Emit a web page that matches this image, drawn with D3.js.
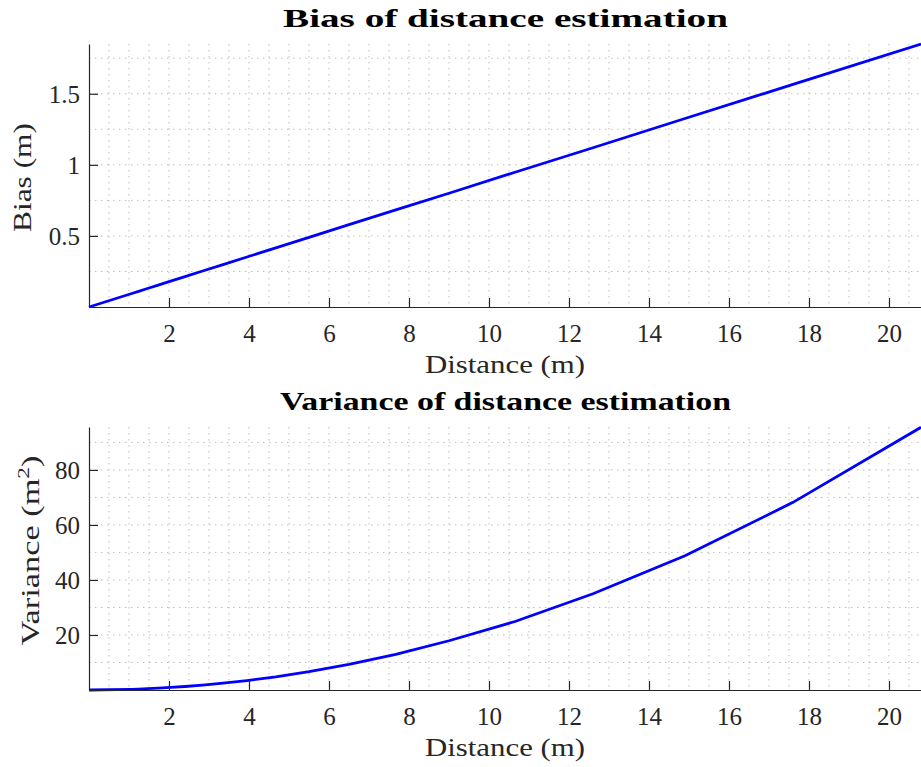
<!DOCTYPE html>
<html><head><meta charset="utf-8">
<script src="https://cdn.jsdelivr.net/npm/d3@7"></script>
<style>body{margin:0;background:#fff}svg{display:block}</style>
</head><body><svg id="c" width="921" height="767"></svg>
<script>
// Data
const distance = [0, 1.05, 1.24, 1.46, 1.73, 2.04, 2.4, 2.84, 3.35, 3.95, 4.67, 5.5, 6.5, 7.67, 9.0, 10.65, 12.6, 14.9, 17.6, 20.8];
const bias = [0, 0.093, 0.11, 0.13, 0.154, 0.182, 0.214, 0.253, 0.298, 0.352, 0.416, 0.49, 0.579, 0.683, 0.80, 0.948, 1.12, 1.326, 1.566, 1.85];
const variance = [0, 0.24, 0.34, 0.47, 0.66, 0.92, 1.27, 1.77, 2.47, 3.43, 4.8, 6.66, 9.3, 12.95, 17.9, 24.9, 35.0, 48.8, 68.2, 95.5];
const xTicks = [2, 4, 6, 8, 10, 12, 14, 16, 18, 20];
const biasTicks = [0.5, 1, 1.5];
const varTicks = [20, 40, 60, 80];
const titles = ["Bias of distance estimation", "Variance of distance estimation"];

const svg = d3.select("#c");
const serif = "'Liberation Serif','DejaVu Serif',serif";
const axisCol = "#262626";

function panel(top, yVals, yDomain, yTicks, yMinorStep, title, titleLen, yLabelFn) {
  const left = 89, right = 921, h = 263;
  const x = d3.scaleLinear().domain([0, 20.8]).range([left, right]);
  const y = d3.scaleLinear().domain(yDomain).range([top + h, top]);
  const g = svg.append("g");
  // grid
  const xg = d3.range(0.5, 20.8, 0.5);
  g.selectAll(".vg").data(xg).enter().append("line")
    .attr("x1", d => x(d)).attr("x2", d => x(d)).attr("y1", top).attr("y2", top + h)
    .attr("stroke", "#bdbdbd").attr("stroke-width", 1).attr("stroke-dasharray", "1.5,4.5");
  const yg = d3.range(yMinorStep, yDomain[1], yMinorStep);
  g.selectAll(".hg").data(yg).enter().append("line")
    .attr("x1", left).attr("x2", right).attr("y1", d => y(d)).attr("y2", d => y(d))
    .attr("stroke", "#bdbdbd").attr("stroke-width", 1).attr("stroke-dasharray", "1.5,4.5");
  // line
  const pts = distance.map((d, i) => [d, yVals[i]]);
  g.append("path").datum(pts)
    .attr("d", d3.line().x(d => x(d[0])).y(d => y(d[1])))
    .attr("fill", "none").attr("stroke", "#0000ff").attr("stroke-width", 2.8);
  // axes
  const xa = g.append("g").attr("transform", `translate(0,${top + h})`)
    .call(d3.axisBottom(x).tickValues(xTicks).tickSizeInner(-9).tickSizeOuter(0));
  const ya = g.append("g").attr("transform", `translate(${left},0)`)
    .call(d3.axisLeft(y).tickValues(yTicks).tickSizeInner(-9).tickSizeOuter(0).tickPadding(9).tickFormat(d3.format("~g")));
  [xa, ya].forEach(a => {
    a.select(".domain").attr("stroke", axisCol).attr("stroke-width", 1.2);
    a.selectAll(".tick line").attr("stroke", axisCol).attr("stroke-width", 1.2);
    a.selectAll("text").attr("fill", axisCol).attr("font-family", serif).attr("font-size", 25);
  });
  xa.selectAll("text").attr("y", 35).attr("dy", 0);
  ya.selectAll("text").attr("dy", "0.34em");
  // title
  g.append("text").attr("x", 505.5).attr("y", top - 17).attr("text-anchor", "middle")
    .attr("font-family", serif).attr("font-weight", "bold").attr("font-size", 26).attr("fill", "#000")
    .attr("textLength", titleLen).attr("lengthAdjust", "spacingAndGlyphs").text(title);
  // x label
  g.append("text").attr("x", 505).attr("y", top + h + 66).attr("text-anchor", "middle")
    .attr("font-family", serif).attr("font-size", 25).attr("fill", axisCol)
    .attr("textLength", 160).attr("lengthAdjust", "spacingAndGlyphs").text("Distance (m)");
  yLabelFn(g, top, h);
}

panel(44, bias, [0, 1.85], biasTicks, 0.25, titles[0], 445, (g, top, h) => {
  g.append("text").attr("transform", `translate(31,${top + h / 2 + 2}) rotate(-90)`)
    .attr("text-anchor", "middle").attr("font-family", serif).attr("font-size", 25).attr("fill", axisCol)
    .attr("textLength", 109).attr("lengthAdjust", "spacingAndGlyphs").text("Bias (m)");
});
panel(427, variance, [0, 95.6], varTicks, 10, titles[1], 451, (g, top, h) => {
  const t = g.append("text").attr("transform", `translate(39,${top + h / 2 - 8}) rotate(-90)`)
    .attr("text-anchor", "middle").attr("font-family", serif).attr("font-size", 25).attr("fill", axisCol)
    .attr("textLength", 190).attr("lengthAdjust", "spacingAndGlyphs");
  t.append("tspan").text("Variance (m");
  t.append("tspan").attr("dy", -10).attr("font-size", 17).text("2");
  t.append("tspan").attr("dy", 10).text(")");
});
</script></body></html>
